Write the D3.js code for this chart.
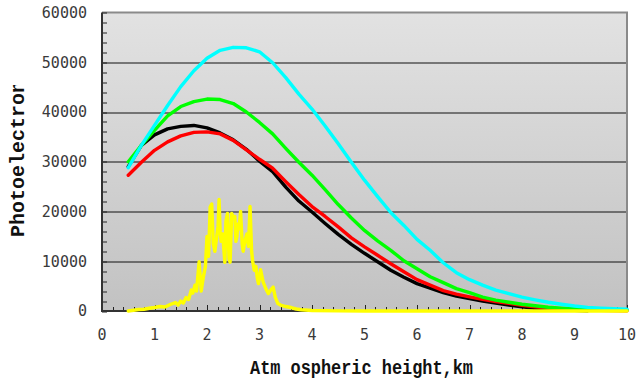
<!DOCTYPE html>
<html lang="en">
<head>
    <meta charset="UTF-8">
    <title>Photoelectrons vs atmospheric height</title>
    <style>
        body { margin: 0; background: #fff; }
        .tick-label { font-family: "DejaVu Sans Mono", monospace; font-size: 15px; fill: #3a3a3a; }
        .axis-title { font-family: "Liberation Mono", "Courier New", monospace; font-weight: bold; font-size: 20px; fill: #111; }
        .series { fill: none; stroke-width: 3.4px; stroke-linejoin: round; stroke-linecap: round; }
    </style>
</head>
<body>
    <div id="chart"></div>
    <script src="https://d3js.org/d3.v7.min.js"></script>
    <script>
        // Heights (km) shared by the four smooth curves
        const heights = [0.5, 0.75, 1, 1.25, 1.5, 1.75, 2, 2.25, 2.5, 2.75, 3, 3.25, 3.5, 3.75,
            4, 4.25, 4.5, 4.75, 5, 5.25, 5.5, 5.75, 6, 6.25, 6.5, 6.75, 7, 7.25, 7.5, 7.75,
            8, 8.25, 8.5, 8.75, 9, 9.25, 9.5, 9.75, 10];

        const cyanValues = [28800, 33300, 37300, 41300, 45100, 48300, 50800, 52400, 53000, 52900,
            52100, 49900, 46900, 43600, 40600, 37200, 33600, 29900, 26300, 23000, 19800, 17200,
            14400, 12200, 9700, 7700, 6300, 5200, 4200, 3500, 2800, 2250, 1750, 1350, 1000, 730,
            580, 450, 340];

        const greenValues = [30000, 33300, 36300, 39200, 41100, 42100, 42600, 42500, 41700, 40000,
            37900, 35600, 32700, 29900, 27300, 24400, 21400, 18700, 16200, 14100, 12200, 10100,
            8500, 6900, 5700, 4500, 3700, 2800, 2200, 1750, 1350, 1050, 750, 580, 440, 340,
            280, 230, 200];

        const redValues = [27300, 29900, 32300, 34000, 35200, 35900, 36000, 35600, 34300, 32400,
            30500, 28700, 26000, 23400, 21000, 19000, 16900, 14700, 12900, 11200, 9500, 7900,
            6300, 5200, 4100, 3400, 2850, 2350, 1900, 1550, 1150, 850, 600, 420, 280, 190,
            130, 90, 60];

        const blackValues = [29000, 33300, 35400, 36600, 37100, 37300, 36800, 35800, 34400, 32500,
            30100, 28000, 24900, 22100, 19900, 17600, 15400, 13400, 11600, 9900, 8200, 6800,
            5500, 4600, 3700, 3000, 2500, 2000, 1600, 1200, 820, 560, 400, 250, 130, 60];

        // Yellow curve is spiky, so it gets its own height grid
        const yellowHeights = [0.5, 0.6, 0.7, 0.8, 0.9, 1, 1.1, 1.2, 1.3, 1.4, 1.45, 1.5, 1.55, 1.6,
            1.65, 1.7, 1.73, 1.77, 1.8, 1.85, 1.89, 1.93, 1.97, 2, 2.03, 2.06, 2.09, 2.12, 2.15,
            2.18, 2.21, 2.23, 2.25, 2.27, 2.3, 2.32, 2.34, 2.36, 2.39, 2.42, 2.44, 2.47, 2.5,
            2.53, 2.55, 2.57, 2.59, 2.61, 2.64, 2.67, 2.69, 2.72, 2.76, 2.79, 2.82, 2.85, 2.87,
            2.9, 2.93, 2.96, 2.98, 3.02, 3.07, 3.12, 3.17, 3.22, 3.26, 3.3, 3.35, 3.4, 3.5, 3.6,
            3.7, 3.8, 4, 4.5, 5, 6, 7, 8, 9, 10];

        const yellowValues = [0, 150, 300, 350, 550, 700, 900, 800, 1300, 1700, 1200, 2000, 1600,
            2700, 2300, 4200, 3600, 5200, 4000, 9900, 4000, 6800, 9000, 15000, 11000, 20900,
            21500, 13500, 12000, 14500, 17000, 22400, 16000, 14000, 15500, 12500, 9800, 18000,
            19600, 10500, 9800, 19600, 18800, 19000, 14000, 15000, 17500, 16500, 20000, 13500,
            12000, 14000, 15500, 13000, 21000, 12000, 10000, 8200, 9000, 6500, 5500, 8300, 5800,
            4500, 3500, 4300, 4800, 2800, 1500, 1200, 900, 700, 400, 250, 100, 30, 10, 0, 0, 0,
            0, 0];

        const xTicks = [0, 1, 2, 3, 4, 5, 6, 7, 8, 9, 10];
        const yTicks = [0, 10000, 20000, 30000, 40000, 50000, 60000];

        const series = [
            { color: "#000000", xs: heights, ys: blackValues },
            { color: "#ff0000", xs: heights, ys: redValues },
            { color: "#00ff00", xs: heights, ys: greenValues },
            { color: "#00ffff", xs: heights, ys: cyanValues },
            { color: "#ffff00", xs: yellowHeights, ys: yellowValues }
        ];

        const W = 636, H = 382;
        const margin = { top: 12.5, right: 9, bottom: 71, left: 102 };
        const innerW = W - margin.left - margin.right,
            innerH = H - margin.top - margin.bottom;

        const svg = d3.select("#chart").append("svg")
            .attr("width", W)
            .attr("height", H);

        const defs = svg.append("defs");
        const grad = defs.append("linearGradient")
            .attr("id", "bg")
            .attr("x1", 0).attr("y1", 0).attr("x2", 0).attr("y2", 1);
        grad.append("stop").attr("offset", "0%").attr("stop-color", "#e2e2e2");
        grad.append("stop").attr("offset", "100%").attr("stop-color", "#c2c2c2");

        defs.append("clipPath").attr("id", "ylabel-clip")
            .append("rect").attr("x", 0).attr("y", 85).attr("width", 60).attr("height", 200);

        const g = svg.append("g")
            .attr("transform", "translate(" + margin.left + "," + margin.top + ")");

        const x = d3.scaleLinear().domain([0, 10]).range([0, innerW]);
        const y = d3.scaleLinear().domain([0, 60000]).range([innerH, 0]);

        // plot background
        g.append("rect")
            .attr("width", innerW)
            .attr("height", innerH)
            .attr("fill", "url(#bg)");

        // horizontal gridlines
        g.selectAll(".grid")
            .data(yTicks.slice(1, -1))
            .enter().append("line")
            .attr("x1", 0).attr("x2", innerW)
            .attr("y1", d => Math.round(y(d)) + 0.5)
            .attr("y2", d => Math.round(y(d)) + 0.5)
            .attr("stroke", "#111")
            .attr("stroke-width", 1);

        // frame: top/right lighter, left/bottom darker
        g.append("path")
            .attr("d", "M0,0H" + innerW + "V" + innerH)
            .attr("fill", "none")
            .attr("stroke", "#8a8a8a")
            .attr("stroke-width", 2);

        // minor ticks, pointing inward
        const yMinor = d3.range(0, 60001, 2000);
        g.selectAll(".ytick")
            .data(yMinor)
            .enter().append("line")
            .attr("x1", 0).attr("x2", 5)
            .attr("y1", d => Math.round(y(d)) + 0.5)
            .attr("y2", d => Math.round(y(d)) + 0.5)
            .attr("stroke", "#222");

        const xMinor = d3.range(0, 10.01, 0.2);
        g.selectAll(".xtick")
            .data(xMinor)
            .enter().append("line")
            .attr("x1", d => Math.round(x(d)) + 0.5)
            .attr("x2", d => Math.round(x(d)) + 0.5)
            .attr("y1", innerH)
            .attr("y2", d => innerH - (Math.abs(d - Math.round(d)) < 1e-6 ? 6 : 4))
            .attr("stroke", "#222");

        g.append("path")
            .attr("d", "M0,0V" + innerH + "H" + innerW)
            .attr("fill", "none")
            .attr("stroke", "#333")
            .attr("stroke-width", 2);

        // curves
        const line = d3.line()
            .x(d => x(d[0]))
            .y(d => y(d[1]));

        g.selectAll(".series")
            .data(series)
            .enter().append("path")
            .attr("class", "series")
            .attr("stroke", d => d.color)
            .attr("d", d => line(d.xs.map((h, i) => [h, d.ys[i]])));

        // tick labels
        g.selectAll(".ylabel")
            .data(yTicks)
            .enter().append("text")
            .attr("class", "tick-label")
            .attr("x", -15)
            .attr("y", d => y(d))
            .attr("dy", "0.35em")
            .attr("text-anchor", "end")
            .text(d => d);

        g.selectAll(".xlabel")
            .data(xTicks)
            .enter().append("text")
            .attr("class", "tick-label")
            .attr("x", d => x(d))
            .attr("y", innerH + 29)
            .attr("text-anchor", "middle")
            .text(d => d);

        // axis titles
        svg.append("text")
            .attr("class", "axis-title")
            .attr("x", 250)
            .attr("y", 374)
            .attr("textLength", 223)
            .attr("lengthAdjust", "spacingAndGlyphs")
            .text("Atm ospheric height,km");

        svg.append("g")
            .attr("clip-path", "url(#ylabel-clip)")
            .append("text")
            .attr("class", "axis-title")
            .attr("transform", "translate(24,237) rotate(-90)")
            .text("Photoelectrons");
    </script>
</body>
</html>
